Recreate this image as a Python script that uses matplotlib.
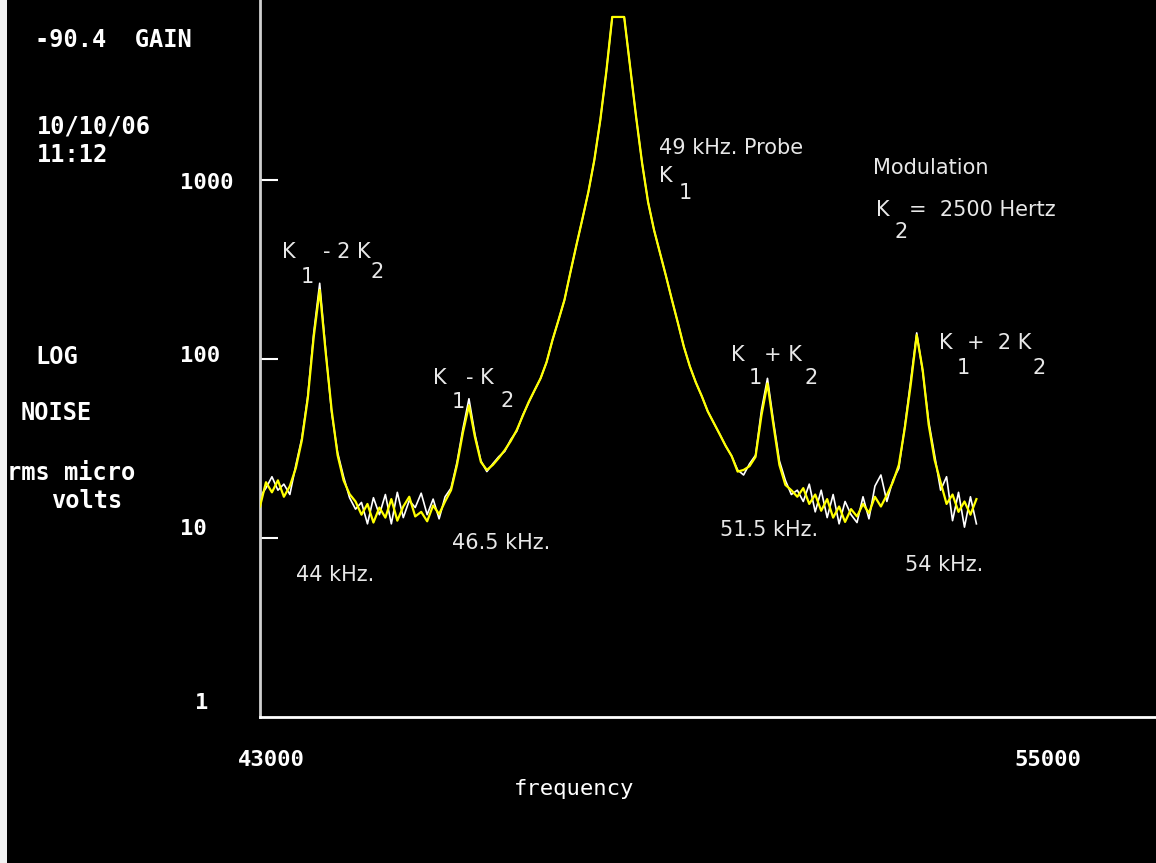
import numpy as np
import matplotlib
matplotlib.use("Agg")
import matplotlib.pyplot as plt
from matplotlib.patches import Rectangle

# --- data ---
FREQ_HZ = [
    43000, 43100, 43200, 43300, 43400, 43500, 43600, 43700, 43800, 43900,
    44000, 44100, 44200, 44300, 44400, 44500, 44600, 44700, 44800, 44900,
    45000, 45100, 45200, 45300, 45400, 45500, 45600, 45700, 45800, 45900,
    46000, 46100, 46200, 46300, 46400, 46500, 46600, 46700, 46800, 46900,
    47000, 47100, 47200, 47300, 47400, 47500, 47600, 47700, 47800, 47900,
    48000, 48100, 48200, 48300, 48400, 48500, 48600, 48700, 48800, 48900,
    49000, 49100, 49200, 49300, 49400, 49500, 49600, 49700, 49800, 49900,
    50000, 50100, 50200, 50300, 50400, 50500, 50600, 50700, 50800, 50900,
    51000, 51100, 51200, 51300, 51400, 51500, 51600, 51700, 51800, 51900,
    52000, 52100, 52200, 52300, 52400, 52500, 52600, 52700, 52800, 52900,
    53000, 53100, 53200, 53300, 53400, 53500, 53600, 53700, 53800, 53900,
    54000, 54100, 54200, 54300, 54400, 54500, 54600, 54700, 54800, 54900,
    55000,
]

# yellow trace (rms micro volts)
YELLOW_UV = [
    15.0, 20.5, 18.0, 21.0, 17.0, 19.5, 24.6, 35.0, 60.0, 133.0,
    243.0, 109.0, 52.0, 29.0, 21.0, 17.6, 16.0, 13.5, 15.5, 12.2,
    14.8, 13.0, 16.5, 12.5, 15.0, 17.0, 13.2, 14.0, 12.4, 15.2,
    13.6, 16.0, 18.5, 25.6, 39.0, 55.0, 36.7, 26.6, 24.0, 25.6,
    28.0, 31.0, 34.8, 40.1, 48.0, 57.5, 67.0, 78.0, 96.0, 128.0,
    165.0, 214.0, 306.0, 433.0, 606.0, 857.0, 1294.0, 2163.0, 4010.0, 8150.0,
    8150.0, 8150.0, 4280.0, 2250.0, 1245.0, 754.0, 526.0, 391.0, 291.0, 214.0,
    159.0, 117.0, 91.0, 74.0, 62.0, 51.0, 44.0, 38.0, 32.7, 28.7,
    23.5, 24.0, 25.2, 28.4, 48.6, 73.0, 42.8, 25.6, 19.8, 18.5,
    17.0, 19.0, 15.5, 17.5, 14.2, 16.5, 13.0, 15.0, 12.3, 14.5,
    13.2, 15.5, 13.8, 17.0, 15.0, 17.4, 20.5, 25.6, 41.0, 72.0,
    136.0, 87.0, 43.0, 27.3, 20.5, 15.5, 17.5, 14.0, 16.0, 13.5,
    16.5,
]

# white trace (second sweep)
WHITE_UV = [
    17.0, 19.0, 22.0, 18.5, 20.0, 17.5, 25.5, 36.0, 62.0, 140.0,
    265.0, 112.0, 50.0, 30.0, 22.0, 16.8, 14.5, 15.8, 12.0, 16.8,
    13.5, 17.5, 12.0, 18.0, 13.0, 16.2, 14.8, 17.8, 13.5, 16.5,
    12.8, 17.0, 19.0, 26.5, 41.0, 60.0, 38.0, 27.0, 23.5, 26.0,
    28.5, 30.5, 35.5, 39.5, 48.5, 57.0, 67.0, 78.0, 96.0, 128.0,
    165.0, 214.0, 306.0, 433.0, 606.0, 857.0, 1294.0, 2163.0, 4010.0, 8150.0,
    8150.0, 8150.0, 4280.0, 2250.0, 1245.0, 754.0, 526.0, 391.0, 291.0, 214.0,
    159.0, 117.0, 91.0, 74.0, 62.0, 51.0, 44.0, 38.0, 32.7, 28.7,
    24.0, 22.5, 26.0, 29.0, 52.0, 78.0, 45.0, 27.0, 21.0, 17.5,
    18.5, 16.0, 20.0, 14.0, 18.5, 13.0, 17.5, 12.0, 16.0, 13.5,
    12.2, 17.0, 12.8, 19.5, 22.5, 16.0, 21.0, 24.5, 42.0, 76.0,
    140.0, 85.0, 45.0, 29.0, 18.5, 22.0, 12.5, 18.0, 11.5, 17.0,
    12.0,
]

Y_TICKS = [10, 100, 1000]
Y_TICK_LABELS = ["1000", "100", "10", "1"]
X_END_LABELS = ["43000", "55000"]

W, H = 1156, 863
MONO = "DejaVu Sans Mono"
SANS = "DejaVu Sans"
TXT = "#e8e8e8"


def fpos(x, y):
    # pixel position -> figure fraction
    return x / W, 1 - y / H


fig = plt.figure(figsize=(W / 100, H / 100), dpi=100, facecolor="black")
ax = fig.add_axes([260 / W, 1 - 717 / H, (W - 260) / W, 717 / H])
ax.set_facecolor("black")

ax.plot(FREQ_HZ, WHITE_UV, color="white", lw=1.2, zorder=2)
ax.plot(FREQ_HZ, YELLOW_UV, color="#ffff00", lw=1.6, zorder=3)

ax.set_yscale("log")
ax.set_ylim(1, 10137)
ax.set_xlim(43000, 58008)

for s in ["top", "right"]:
    ax.spines[s].set_visible(False)
ax.spines["left"].set_color("#d0d0d0")
ax.spines["left"].set_linewidth(2)
ax.spines["bottom"].set_color("white")
ax.spines["bottom"].set_linewidth(2)

ax.set_xticks([])
ax.set_yticks(Y_TICKS)
ax.yaxis.set_minor_locator(matplotlib.ticker.NullLocator())
ax.tick_params(axis="y", direction="in", length=13, width=1.5,
               colors="white", labelleft=False)

# y tick labels, left aligned like the scope screen
for lab, y in zip(Y_TICK_LABELS, [183, 356, 529, 703]):
    x = 195 if lab == "1" else 180
    fig.text(*fpos(x, y), lab, color="white", fontsize=16, family=MONO,
             fontweight="bold", ha="left", va="center")

fig.text(*fpos(271, 760), X_END_LABELS[0], color="white", fontsize=16,
         family=MONO, fontweight="bold", ha="center", va="center")
fig.text(*fpos(1048, 760), X_END_LABELS[1], color="white", fontsize=16,
         family=MONO, fontweight="bold", ha="center", va="center")
fig.text(*fpos(574, 789), "frequency", color="white", fontsize=16,
         family=MONO, ha="center", va="center")

# screen status text on the left
for txt, x, y in [("-90.4  GAIN", 35, 40), ("10/10/06", 37, 127),
                  ("11:12", 37, 155), ("LOG", 35, 357), ("NOISE", 21, 413),
                  ("rms micro", 7, 473), ("volts", 51, 501)]:
    fig.text(*fpos(x, y), txt, color="white", fontsize=17, family=MONO,
             fontweight="bold", ha="left", va="center")

# peak annotations (main text + subscripts)
notes = [
    ("K", 282, 252), ("- 2 K", 323, 252), ("1", 301, 277), ("2", 371, 272),
    ("K", 433, 378), ("- K", 466, 378), ("1", 452, 402), ("2", 501, 401),
    ("49 kHz. Probe", 659, 148), ("K", 659, 176), ("1", 679, 193),
    ("K", 731, 355), ("+ K", 764, 355), ("1", 749, 378), ("2", 804, 378),
    ("K", 939, 343), ("+  2 K", 967, 343), ("1", 957, 368), ("2", 1032, 368),
    ("Modulation", 873, 168), ("K", 876, 210), ("=  2500 Hertz", 909, 210),
    ("2", 894, 232),
    ("44 kHz.", 296, 575), ("46.5 kHz.", 452, 543), ("51.5 kHz.", 720, 530),
    ("54 kHz.", 905, 565),
]
for txt, x, y in notes:
    fig.text(*fpos(x, y), txt, color=TXT, fontsize=15, family=SANS,
             ha="left", va="center")

# light strip on the left edge of the screen capture
fig.add_artist(Rectangle((0, 0), 7 / W, 1, transform=fig.transFigure,
                         facecolor="#f2f2f2", edgecolor="none"))

fig.savefig("out.png", dpi=100, facecolor="black")
